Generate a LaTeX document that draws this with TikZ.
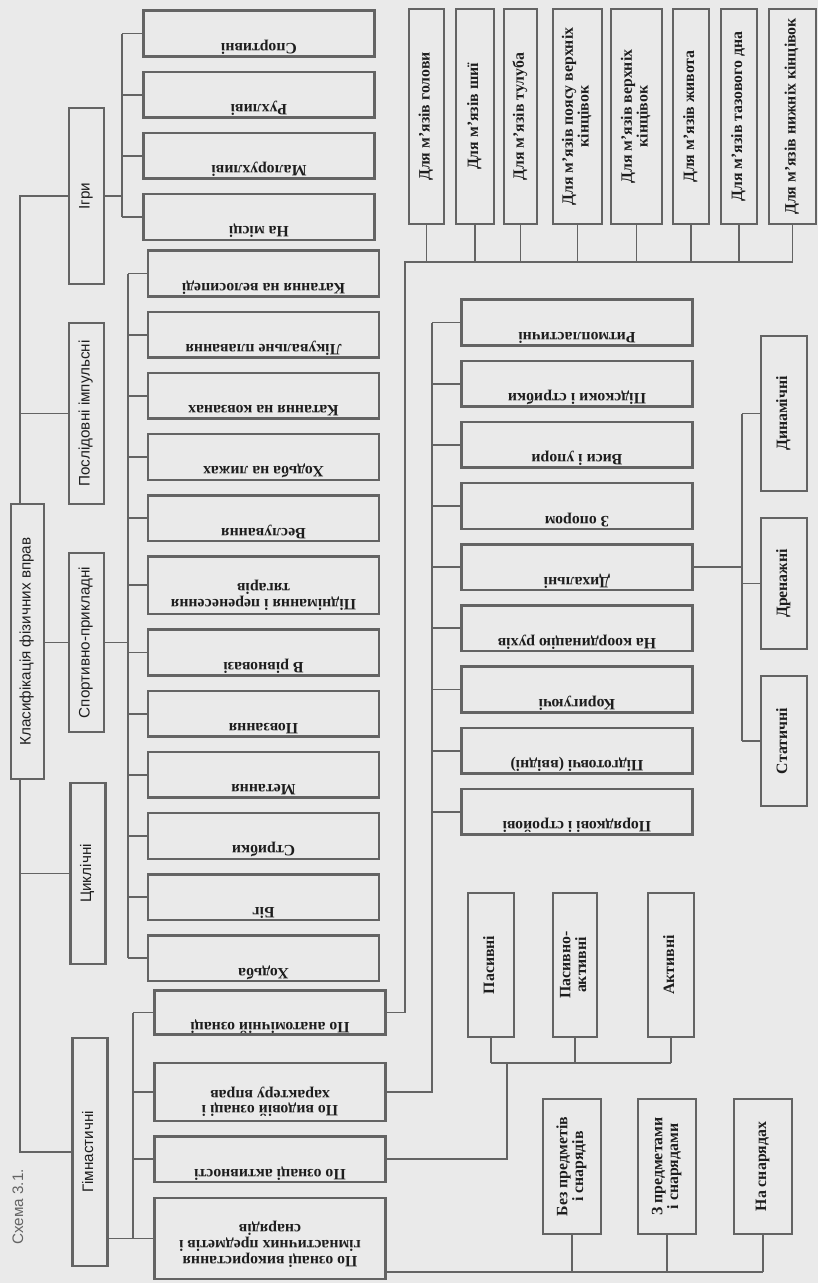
\documentclass[tikz,border=0pt]{standalone}
\usepackage{fontspec}
\setmainfont{Liberation Serif}
\setsansfont{Liberation Sans}
\usepackage{graphicx}
\usetikzlibrary{positioning}

\definecolor{paper}{RGB}{234,234,234}
\definecolor{ink}{RGB}{100,100,100}
\definecolor{txt}{RGB}{30,30,30}

\newcommand{\upsd}[1]{\rotatebox{180}{\begin{tabular}{@{}c@{}}#1\end{tabular}\rule[-9mm]{0pt}{1pt}}}
\newcommand{\vtext}[1]{\rotatebox{90}{\begin{tabular}{@{}c@{}}#1\end{tabular}}}
\renewcommand{\arraystretch}{0.9}

\begin{document}
\begin{tikzpicture} [
    x=0.3mm, y=-0.3mm,
    node distance=3.9mm,
    every node/.style={text=txt},
    hbox/.style={rectangle, draw=ink, line width=0.75mm, minimum width=69.2mm, minimum height=13.7mm, inner sep=1pt, font=\fontsize{13.5}{15}\selectfont\bfseries},
    vbox/.style={rectangle, draw=ink, line width=0.75mm, inner sep=1pt, font=\fontsize{13.5}{15}\selectfont\bfseries},
    catbox/.style={rectangle, draw=ink, line width=0.75mm, minimum width=10.4mm, inner sep=1pt, font=\sffamily\fontsize{13}{15}\selectfont},
    link/.style={draw=ink, line width=0.55mm}
]
\fill[paper] (0,0) rectangle (818,1283);
\useasboundingbox (0,0) rectangle (818,1283);

% Root and first level
\node[catbox, minimum width=9.8mm, minimum height=82.4mm] (root) at (27.5,641.5) {\vtext{Класифікація фізичних вправ}};
\node[catbox, minimum height=52.7mm] (igry) at (86.5,196) {\vtext{Ігри}};
\node[catbox, minimum height=54.2mm] (poslid) at (86.5,413.5) {\vtext{Послідовні імпульсні}};
\node[catbox, minimum height=53.6mm] (sport) at (86.5,642.5) {\vtext{Спортивно-прикладні}};
\node[catbox, minimum height=54.2mm] (cykl) at (88,873.5) {\vtext{Циклічні}};
\node[catbox, minimum height=68.3mm] (gimn) at (90,1152) {\vtext{Гімнастичні}};
\node[font=\sffamily\fontsize{13}{15}\selectfont, text=ink] (caption) at (18,1207) {\rotatebox{90}{Схема 3.1.}};

% Games
\node[hbox] (sportyvni) at (259,33.5) {\upsd{Спортивні}};
\node[hbox, below=of sportyvni] (rukhlyvi) {\upsd{Рухливі}};
\node[hbox, below=of rukhlyvi] (malorukh) {\upsd{Малорухливі}};
\node[hbox, below=of malorukh] (namisci) {\upsd{На місці}};

% Applied and cyclic
\node[hbox] (velo) at (263.5,273.5) {\upsd{Катання на велосипеді}};
\node[hbox, below=of velo] (plav) {\upsd{Лікувальне плавання}};
\node[hbox, below=of plav] (kovz) {\upsd{Катання на ковзанах}};
\node[hbox, below=of kovz] (lyzhi) {\upsd{Ходьба на лижах}};
\node[hbox, below=of lyzhi] (vesl) {\upsd{Веслування}};
\node[hbox, minimum height=17.3mm, below=of vesl] (tyag) {\upsd{Піднімання і перенесення\\тягарів}};
\node[hbox, below=of tyag] (rivn) {\upsd{В рівновазі}};
\node[hbox, below=of rivn] (povz) {\upsd{Повзання}};
\node[hbox, below=of povz] (metan) {\upsd{Метання}};
\node[hbox, below=of metan] (strybky) {\upsd{Стрибки}};
\node[hbox, below=of strybky] (big) {\upsd{Біг}};
\node[hbox, below=of big] (khodba) {\upsd{Ходьба}};

% Gymnastics
\node[hbox, minimum height=12.8mm] (anat) at (270,1012.5) {\upsd{По анатомічній ознаці}};
\node[hbox, minimum height=17.3mm] (vyd) at (270,1092) {\upsd{По видовій ознаці і\\характеру вправ}};
\node[hbox, below=of vyd] (aktyv) {\upsd{По ознаці активності}};
\node[hbox, minimum height=24.2mm] (vykor) at (270,1238.5) {\upsd{По ознаці використання\\гімнастичних предметів і\\снарядів}};

% Muscle groups
\node[vbox, minimum width=10.4mm, minimum height=64.4mm] (m1) at (426.5,116.5) {\vtext{Для м’язів голови}};
\node[vbox, minimum width=11.3mm, minimum height=64.4mm] (m2) at (475,116.5) {\vtext{Для м’язів шиї}};
\node[vbox, minimum width=9.8mm, minimum height=64.4mm] (m3) at (520.5,116.5) {\vtext{Для м’язів тулуба}};
\node[vbox, minimum width=14.6mm, minimum height=64.4mm] (m4) at (577.5,116.5) {\vtext{Для м’язів поясу верхніх\\кінцівок}};
\node[vbox, minimum width=15.2mm, minimum height=64.4mm] (m5) at (636.5,116.5) {\vtext{Для м’язів верхніх\\кінцівок}};
\node[vbox, minimum width=10.7mm, minimum height=64.4mm] (m6) at (691,116.5) {\vtext{Для м’язів живота}};
\node[vbox, minimum width=10.7mm, minimum height=64.4mm] (m7) at (739,116.5) {\vtext{Для м’язів тазового дна}};
\node[vbox, minimum width=14mm, minimum height=64.4mm] (m8) at (792.5,116.5) {\vtext{Для м’язів нижніх кінцівок}};

% Kinds of gymnastic exercises
\node[hbox] (ritm) at (577,322.5) {\upsd{Ритмопластичні}};
\node[hbox, below=of ritm] (pidsk) {\upsd{Підскоки і стрибки}};
\node[hbox, below=of pidsk] (vysy) {\upsd{Виси і упори}};
\node[hbox, below=of vysy] (opor) {\upsd{З опором}};
\node[hbox, below=of opor] (dykh) {\upsd{Дихальні}};
\node[hbox, below=of dykh] (koord) {\upsd{На координацію рухів}};
\node[hbox, below=of koord] (koryg) {\upsd{Коригуючі}};
\node[hbox, below=of koryg] (pidgot) {\upsd{Підготовчі (ввідні)}};
\node[hbox, below=of pidgot] (poryad) {\upsd{Порядкові і стройові}};

% Breathing
\node[vbox, minimum width=13.7mm, minimum height=46.4mm] (dynam) at (784,413.5) {\vtext{Динамічні}};
\node[vbox, minimum width=13.7mm, minimum height=39.2mm] (drenazh) at (784,583.5) {\vtext{Дренажні}};
\node[vbox, minimum width=13.7mm, minimum height=38.9mm] (statych) at (784,741) {\vtext{Статичні}};

% Activity
\node[vbox, minimum width=13.7mm, minimum height=43.1mm] (pasyv) at (491,965) {\vtext{Пасивні}};
\node[vbox, minimum width=13.1mm, minimum height=43.1mm] (pasakt) at (575,965) {\vtext{Пасивно-\\активні}};
\node[vbox, minimum width=13.7mm, minimum height=43.1mm] (aktyvni) at (671,965) {\vtext{Активні}};

% Apparatus
\node[vbox, minimum width=17.3mm, minimum height=40.4mm] (bez) at (572,1166.5) {\vtext{Без предметів\\і снарядів}};
\node[vbox, minimum width=17.3mm, minimum height=40.4mm] (zpred) at (667,1166.5) {\vtext{З предметами\\і снарядами}};
\node[vbox, minimum width=17.3mm, minimum height=40.4mm] (nasn) at (763,1166.5) {\vtext{На снарядах}};

% Trunk
\coordinate (trunk) at (20,0);
\draw[link] (root.north -| trunk) -- (trunk |- igry.west) -- (igry.west);
\draw[link] (trunk |- poslid.west) -- (poslid.west);
\draw[link] (root.east |- sport.west) -- (sport.west);
\draw[link] (root.south -| trunk) -- (trunk |- gimn.west) -- (gimn.west);
\draw[link] (trunk |- cykl.west) -- (cykl.west);

% Games bracket
\coordinate (gamesbus) at (122,0);
\draw[link] (igry.east) -- (gamesbus |- igry.east);
\draw[link] (gamesbus |- sportyvni.west) -- (gamesbus |- namisci.west);
\foreach \n in {sportyvni,rukhlyvi,malorukh,namisci}
    \draw[link] (gamesbus |- \n.west) -- (\n.west);

% Applied bracket
\coordinate (applbus) at (128,0);
\draw[link] (sport.east) -- (applbus |- sport.east);
\draw[link] (applbus |- velo.west) -- (applbus |- khodba.west);
\foreach \n in {velo,plav,kovz,lyzhi,vesl,tyag,rivn,povz,metan,strybky,big,khodba}
    \draw[link] (applbus |- \n.west) -- (\n.west);

% Gymnastics bracket
\coordinate (gymbus) at (133,0);
\draw[link] (gimn.east |- vykor.west) -- (vykor.west);
\draw[link] (gymbus |- anat.west) -- (gymbus |- vykor.west);
\foreach \n in {anat,vyd,aktyv}
    \draw[link] (gymbus |- \n.west) -- (\n.west);

% Anatomical
\coordinate (anatbus) at (405,262);
\draw[link] (anat.east) -| (anatbus) -- (anatbus -| m8.south);
\foreach \n in {m1,m2,m3,m4,m5,m6,m7,m8}
    \draw[link] (\n.south) -- (\n.south |- anatbus);

% Kinds
\coordinate (kindbus) at (432,0);
\draw[link] (vyd.east) -| (kindbus |- ritm.west);
\foreach \n in {ritm,pidsk,vysy,opor,dykh,koord,koryg,pidgot,poryad}
    \draw[link] (kindbus |- \n.west) -- (\n.west);

% Breathing
\coordinate (breathbus) at (742,0);
\draw[link] (dykh.east) -- (breathbus |- dykh.east);
\draw[link] (breathbus |- dynam.west) -- (breathbus |- statych.west);
\foreach \n in {dynam,drenazh,statych}
    \draw[link] (breathbus |- \n.west) -- (\n.west);

% Activity
\coordinate (actbus) at (507,1063);
\draw[link] (aktyv.east) -| (actbus);
\draw[link] (pasyv.south |- actbus) -- (aktyvni.south |- actbus);
\foreach \n in {pasyv,pasakt,aktyvni}
    \draw[link] (\n.south) -- (\n.south |- actbus);

% Apparatus
\coordinate (appbus) at (0,1272);
\draw[link] (vykor.east |- appbus) -- (nasn.south |- appbus);
\foreach \n in {bez,zpred,nasn}
    \draw[link] (\n.south) -- (\n.south |- appbus);

\end{tikzpicture}
\end{document}
